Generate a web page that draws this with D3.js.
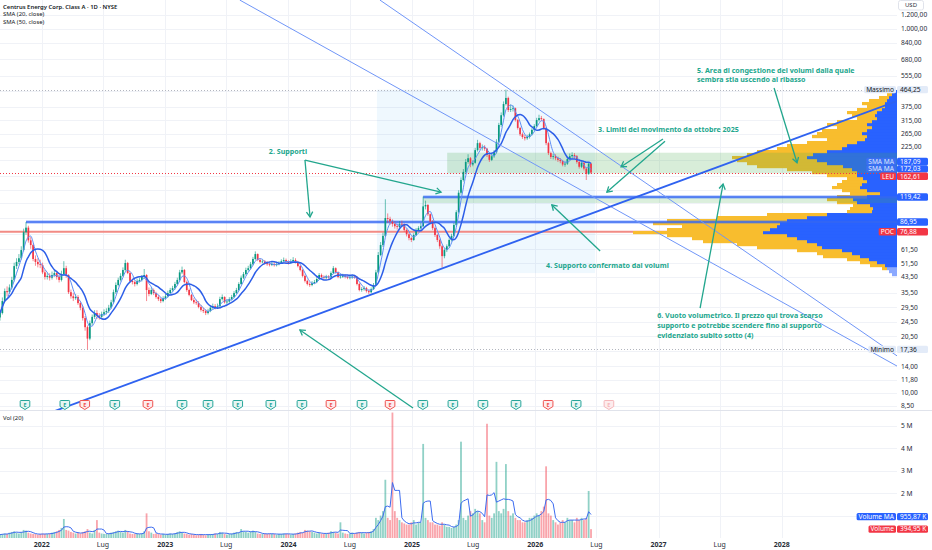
<!DOCTYPE html>
<html>
<head>
<meta charset="utf-8">
<script src="https://cdn.jsdelivr.net/npm/d3@7"></script>
<style>
  body { margin: 0; background: #fff; }
  svg { display: block; font-family: "Noto Sans", "DejaVu Sans", sans-serif; }
</style>
</head>
<body>
<svg id="chart" width="932" height="550"></svg>
<script>
/* global d3 */

// ---- data (weekly candles) ----
var firstWeek = "2021-08-30";
var firstOpen = 26;

var closes = [
  27.5,32,36.3,35.8,38,41.8,49.8,52.5,55,61,
  76.5,81,69,65,54.5,52.5,51,50.5,46,43.4,
  44,43,44.5,45.6,43.4,41.8,45,48.5,44.5,35.8,
  34,33.2,33.7,31.2,29.4,25.8,23,19.9,24.2,26.2,
  27.5,26.5,26.2,27.2,27.8,28.2,29.4,31.5,35.8,39.2,
  41.8,44,47.4,51.8,45.6,41.3,40.7,39.7,41.3,41.8,
  43.4,44.5,36.8,35,36.8,35.4,33.7,32.8,32,33.2,
  34,35.4,36.8,37.7,39.7,41.8,46,47.4,40.7,36.8,
  34.6,32.4,31.5,31.2,29.7,28.6,28.2,27.5,28.2,29.4,
  30,29.4,30,32.8,33.7,31.5,31.8,32.8,33.7,35.4,
  36.8,39.7,43,45,47.4,48.5,51,54.5,58,53.8,
  52.5,52.8,51.8,51,50.5,51.2,50.4,51,51.8,53,
  53.8,52.5,51.8,53,53.8,52.5,49.8,47.4,44,41.3,
  39.7,39.2,40.2,40.7,42.3,44.5,43.4,43,43.6,43.2,
  45.6,48.5,46,43.4,43.6,44,43.4,43,43.2,43.6,
  43.3,39.7,36.8,37.2,37.7,36.3,35.8,37.2,39.2,46,
  57.3,65,73,91.5,90.5,87.5,85,82.5,81.7,85,
  84.6,78.7,74.5,71,69.3,73.8,78.7,80.5,82.5,106,
  108,96,87.5,80.5,73.8,69.3,64,56.5,61,64,
  69.3,73,83.8,98.5,126,148,164,186,195,180,
  184,216,236,222,224,220,203,191,200,210,
  240,297,336,387,418,359,363,367,316,286,
  264,255,251,255,264,279,293,316,324,320,
  286,236,208,198,200,195,191,188,180,182,
  193,200,203,200,186,175,184,171,160,182,
  162.61
];

var highs = [
  28.5,33.5,37.5,38.5,39.5,43.5,52,55,58,64,
  80,87,83,72,66,57,55,54,52,47.5,
  46,45.5,46.5,47.5,47,44.5,47,53,50,45,
  37,35.5,35,34.5,32,30,26.5,23.5,25,27,
  28.5,28.5,27.5,28,28.8,29.2,30.5,32.5,37,40.5,
  43,45.5,49,54,52.5,46.5,42.5,41.5,42.5,43,
  44.5,48,45,38,38,37.5,36,34.5,33.5,34,
  35,36.5,37.8,38.8,40.8,43,47.5,49.5,48,41.5,
  37.5,35,33.2,32.5,32,30.5,29.5,28.8,29,30.2,
  31,30.8,31,33.8,34.8,34,32.8,33.6,34.6,36.3,
  37.8,40.6,44.2,46.2,48.8,50,52.5,56,60,58.5,
  55,54.2,53.8,53,52.3,52.5,52.3,52.2,53,54.3,
  55.5,54.8,53.6,54.4,55.8,55,53.2,50.5,48,44.8,
  42,40.6,41.2,41.8,43.4,45.6,45.3,44.3,44.6,44.4,
  46.6,49.8,49,46.6,44.8,45.2,44.8,44.2,44.3,44.6,
  44.5,43.8,40.3,38.2,38.7,38.3,37,38,40.2,47.5,
  59.5,67.5,76,116,97,93,90,88,85,88,
  88.5,85.5,80,76,72.5,75.5,80.5,82.5,86,120,
  114,109,97,89,82,75,70.5,65,62.5,65.5,
  70.8,75,86,101,130,153,170,193,205,198,
  190,222,246,240,232,230,222,206,205,216,
  248,305,348,400,464.25,425,385,380,370,320,
  290,270,262,262,270,285,300,325,338,333,
  323,290,240,212,206,205,199,195,191,187,
  198,207,210,208,203,189,188,187,174,186,
  184
];

var lows = [
  25,27,31.5,34,35,37,41,48,51,54,
  60,74,67,62,53,50,49,48.5,45,42,
  42,41.5,42,43.5,42,40.5,41,44.5,43,35,
  33,32,32.5,30.5,28.5,25,22,17.36,19.5,23.5,
  25.5,25.5,25.3,25.5,26.5,27,27.5,29,31,35,
  38.5,41,43.5,46.5,45,40.5,39.5,38.5,39,40.5,
  41,42.5,32,34,34.5,34.5,33,32,31.2,31.5,
  32.5,33.5,35,36,37,39,41,45,40,36,
  34,32,30.8,30.5,29.2,28,27.5,26.8,27,27.8,
  29,28.8,29,29.6,32.2,31,30.8,31.3,32.3,33.2,
  35,36.3,39.2,42.3,44.3,46.5,47.8,50.3,53.8,53,
  51.5,51.6,50.8,50,49.6,49.8,49.5,49.6,50.3,51.2,
  52.3,51.6,50.8,51.2,52.3,51.5,49,46.6,43.2,40.5,
  39,38.3,38.6,39.6,40.1,41.8,42.6,42.2,42.3,42.4,
  42.7,45,45.3,42.7,42.5,42.9,42.6,42.2,42.1,42.4,
  42.4,39,36.2,36,36.5,35.6,35,35.3,36.8,38.8,
  45.5,56.5,63.5,72,86,84,82,80,79,80.5,
  82,77,72.5,69,67.5,68.5,73,77.5,79.5,81.5,
  102,94,85.5,78.5,72,67.5,62,49,55,59.5,
  63,68,72,82.5,97,123,145,160,182,174,
  176,182,212,216,215,214,198,186,188,196,
  207,236,290,330,380,350,350,352,310,280,
  258,249,244,246,250,260,274,288,310,312,
  280,230,203,193,192,190,186,183,176,175,
  179,190,196,194,182,171,172,167,148,158,
  160
];

// volume, millions of shares
var volumes = [
  0.15,0.18,0.2,0.18,0.24,0.27,0.3,0.24,0.2,0.27,
  0.36,0.33,0.24,0.2,0.18,0.18,0.15,0.18,0.2,0.18,
  0.18,0.2,0.24,0.27,0.3,0.36,0.45,0.85,0.36,0.33,
  0.27,0.24,0.2,0.24,0.2,0.27,0.3,0.4,0.24,0.2,
  0.36,0.8,0.24,0.2,0.18,0.18,0.2,0.24,0.27,0.3,
  0.33,0.27,0.24,0.36,0.3,0.2,0.18,0.18,0.2,0.18,
  0.2,0.3,1.1,0.3,0.24,0.18,0.2,0.18,0.15,0.18,
  0.15,0.18,0.2,0.18,0.2,0.27,0.3,0.24,0.2,0.18,
  0.15,0.18,0.15,0.12,0.15,0.18,0.15,0.12,0.15,0.18,
  0.18,0.2,0.18,0.27,0.24,0.18,0.15,0.18,0.2,0.24,
  0.27,0.24,0.4,0.3,0.27,0.24,0.3,0.33,0.27,0.2,
  0.18,0.18,0.2,0.18,0.2,0.18,0.18,0.15,0.18,0.18,
  0.2,0.18,0.18,0.15,0.18,0.2,0.24,0.27,0.24,0.36,
  0.33,0.3,0.27,0.24,0.2,0.24,0.2,0.18,0.2,0.24,
  0.3,0.27,0.24,0.2,0.7,0.24,0.2,0.18,0.2,0.24,
  0.2,0.24,0.27,0.24,0.2,0.24,0.27,0.3,0.4,0.9,
  0.8,1.0,1.2,2.6,0.9,0.8,5.6,1.2,0.9,0.8,
  0.7,0.65,0.6,0.6,0.7,0.8,0.6,0.7,0.7,4.2,
  0.9,0.8,0.7,0.7,0.6,0.6,0.55,0.7,0.6,0.5,
  0.5,0.45,0.5,0.6,0.8,4.3,0.9,0.8,1.0,1.2,
  1.1,1.3,1.2,1.1,0.8,0.7,5.1,1.0,0.9,1.1,
  3.4,1.2,1.1,1.3,3.3,1.2,1.0,1.1,0.9,0.8,
  0.8,0.7,0.7,0.8,0.9,0.9,1.0,1.1,1.0,1.2,
  1.4,3.2,1.1,1.0,0.8,0.7,0.6,0.7,0.8,0.7,
  0.9,0.8,0.8,0.7,0.9,0.8,0.9,0.8,0.9,2.1,
  0.39495
];

// last values shown on the scale
var smaLast = [187.09, 172.03];
var volMaLast = 0.95587;

// levels and drawings
var pocPrice = 76.88;
var oldHigh = [86.95, "2021-11-15"];
var newHigh = [119.42, "2025-02-03"];
var newHighBandLow = 110.7;
var congestionZone = ["2025-04-15", 161.1, 209];
var rangeBox = ["2024-09-19", "2026-06-27", 45.6, 464.25];
var trendThin = [
  [["2023-08-10", 1442], ["2028-12-07", 14.06]],
  [["2024-09-28", 1442], ["2028-12-07", 16.0]]
];
var trendThick = [["2022-02-08", 7.96], ["2028-12-07", 402]];

// visible range volume profile (bottom row first), thousands of shares
var vpLow = 43.94, vpHigh = 462.3;
var vpUp = [5,8,10,12,20,28,37,45,55,75, 80,90,100,110,134,127,120,117,110,90,
  70,25,24,27,40,44,30,17,30,37, 35,30,34,40,40,45,54,70,80,90,
  84,70,55,50,40,32,30,35,30,25, 30,25,20,22,20,15,12,12,10,8, 5,3];
var vpDown = [0,0,5,15,17,22,37,35,45,65, 80,104,105,120,130,103,95,127,120,90,
  60,25,23,17,20,26,30,30,25,28, 25,25,16,30,45,65,86,80,80,75,
  66,70,65,60,50,38,55,45,45,35, 40,35,20,23,30,25,18,23,18,10, 5,2];

// earnings
var earnDates = ["2021-11-12","2022-03-10","2022-05-08","2022-08-05","2022-11-11",
  "2023-02-20","2023-05-08","2023-08-04","2023-11-10","2024-02-10","2024-05-06",
  "2024-08-06","2024-10-28","2025-02-02","2025-05-02","2025-07-30","2025-11-05",
  "2026-02-08","2026-05-02","2026-08-07"];
var earnKind = ["up","up","down","up","down","up","up","up","up","up","down",
  "up","down","up","up","up","up","down","up","next"];

// axes
var priceTicks = [8.5,10,11.8,14,17,20.5,24.5,29.5,35.5,43.5,51.5,61.5,75,91,110,130,
  155,190,225,265,315,375,455,555,680,840,1000,1200];
var volTicks = [1,2,3,4,5];
var timeTicks = ["2022-01-01","2022-07-01","2023-01-01","2023-07-01","2024-01-01",
  "2024-07-01","2025-01-01","2025-07-01","2026-01-01","2026-07-01","2027-01-01",
  "2027-07-01","2028-01-01"];
var timeLabels = ["2022","Lug","2023","Lug","2024","Lug","2025","Lug","2026","Lug",
  "2027","Lug","2028"];

// annotations
var noteTexts = [
  ["2. Supporti"],
  ["3. Limiti del movimento da ottobre 2025"],
  ["4. Supporto confermato dai volumi"],
  ["5. Area di congestione dei volumi dalla quale", "sembra stia uscendo al ribasso"],
  ["6. Vuoto volumetrico. Il prezzo qui trova scarso", "supporto e potrebbe scendere fino al supporto", "evidenziato subito sotto (4)"]
];
var noteAnchors = [["2023-11-04", 211], ["2026-07-06", 282], ["2026-02-02", 49.9],
  ["2027-04-25", 595], ["2026-12-28", 26.5]];
var noteArrows = [
  [["2024-02-19", 190.6], ["2024-03-05", 92.7]],
  [["2024-02-19", 190.6], ["2025-03-28", 127]],
  [["2027-01-14", 248.7], ["2026-09-12", 175]],
  [["2027-01-20", 242], ["2026-08-01", 127]],
  [["2026-07-12", 60.3], ["2026-02-19", 108]],
  [["2027-12-09", 474], ["2028-02-15", 184]],
  [["2027-05-04", 29.3], ["2027-07-11", 140.6]],
  [["2025-01-04", 8.27], ["2024-02-04", 22.2]]
];

// ---- layout ----
var plotR = 897, paneBottom = 410, volBottom = 538;
var upColor = "#089981", downColor = "#f23645", noteColor = "#22a68d";

var parse = d3.timeParse("%Y-%m-%d");
var itFormat = d3.formatLocale({decimal: ",", thousands: ".", grouping: [3], currency: ["", ""]}).format(",.2f");

var svg = d3.select("#chart");
var x = d3.scaleTime().domain([parse("2021-08-30"), parse("2028-12-07")]).range([0, plotR]);
var y = d3.scaleLog().domain([10, 1000]).range([393, 29]);
var yv = d3.scaleLinear().domain([0, 5]).range([volBottom, 426]);

var start = parse(firstWeek);
var candles = closes.map(function(c, i) {
  return {
    date: d3.timeDay.offset(start, 7 * i),
    open: i ? closes[i - 1] : firstOpen,
    high: highs[i], low: lows[i], close: c, vol: volumes[i]
  };
});

function sma(values, n) {
  return values.map(function(v, i) {
    return d3.mean(values.slice(Math.max(0, i - n + 1), i + 1));
  });
}
var sma20 = sma(closes, 4), sma50 = sma(closes, 10), volMa = sma(volumes, 4);

function px(p) { return x(parse(p[0])); }
function py(p) { return y(p[1]); }

svg.append("rect").attr("width", 932).attr("height", 550).attr("fill", "#fff");

// grid
var grid = svg.append("g").attr("stroke", "#f0f2f7").attr("stroke-width", 1);
timeTicks.forEach(function(t) {
  var xx = Math.round(x(parse(t))) + 0.5;
  grid.append("line").attr("x1", xx).attr("x2", xx).attr("y1", 0).attr("y2", volBottom);
});
priceTicks.forEach(function(t) {
  var yy = Math.round(y(t)) + 0.5;
  grid.append("line").attr("x1", 0).attr("x2", plotR).attr("y1", yy).attr("y2", yy);
});
volTicks.forEach(function(t) {
  var yy = Math.round(yv(t)) + 0.5;
  grid.append("line").attr("x1", 0).attr("x2", plotR).attr("y1", yy).attr("y2", yy);
});
svg.append("line").attr("x1", 0).attr("x2", 932).attr("y1", paneBottom + 0.5).attr("y2", paneBottom + 0.5)
  .attr("stroke", "#e0e3eb");

svg.append("clipPath").attr("id", "pane").append("rect")
  .attr("x", 0).attr("y", 0).attr("width", plotR).attr("height", paneBottom);
var pane = svg.append("g").attr("clip-path", "url(#pane)");

// range box
pane.append("rect")
  .attr("x", px([rangeBox[0]])).attr("width", px([rangeBox[1]]) - px([rangeBox[0]]))
  .attr("y", y(rangeBox[3])).attr("height", y(rangeBox[2]) - y(rangeBox[3]))
  .attr("fill", "rgba(33,150,243,0.07)");

// POC line (under the profile)
pane.append("line").attr("x1", 0).attr("x2", plotR).attr("y1", y(pocPrice)).attr("y2", y(pocPrice))
  .attr("stroke", "#f28b85").attr("stroke-width", 2);

// volume profile
var vpRows = vpUp.length;
var vpStep = Math.log(vpHigh / vpLow) / vpRows;
var vpW = d3.scaleLinear().domain([0, d3.max(vpUp, function(v, i) { return v + vpDown[i]; })]).range([0, 264]);
var vp = pane.append("g");
vpUp.forEach(function(up, k) {
  var lo = vpLow * Math.exp(vpStep * k), hi = vpLow * Math.exp(vpStep * (k + 1));
  var y0 = y(hi), h = y(lo) - y(hi);
  var wt = vpW(up + vpDown[k]), wu = vpW(up);
  vp.append("rect").attr("x", plotR - wt).attr("width", wt - wu).attr("y", y0).attr("height", h + 0.2)
    .attr("fill", "#f8bd2e");
  vp.append("rect").attr("x", plotR - wu).attr("width", wu).attr("y", y0).attr("height", h + 0.2)
    .attr("fill", k < 3 ? "#8aa8ff" : "#2962ff");
});

// zones
pane.append("rect")
  .attr("x", px([congestionZone[0]])).attr("width", plotR - px([congestionZone[0]]))
  .attr("y", y(congestionZone[2])).attr("height", y(congestionZone[1]) - y(congestionZone[2]))
  .attr("fill", "rgba(76,175,80,0.22)");
pane.append("rect")
  .attr("x", px([newHigh[1]])).attr("width", plotR - px([newHigh[1]]))
  .attr("y", y(newHigh[0])).attr("height", y(newHighBandLow) - y(newHigh[0]))
  .attr("fill", "rgba(76,175,80,0.2)");

// horizontal supports
[oldHigh, newHigh].forEach(function(lv) {
  var x0 = px([lv[1]]), yy = y(lv[0]);
  pane.append("line").attr("x1", x0).attr("x2", plotR).attr("y1", yy).attr("y2", yy)
    .attr("stroke", "rgba(41,98,255,0.25)").attr("stroke-width", 4);
  pane.append("line").attr("x1", x0).attr("x2", plotR).attr("y1", yy).attr("y2", yy)
    .attr("stroke", "#3567f2").attr("stroke-width", 1.5);
});

// high / low / last price dotted lines
var maxHigh = d3.max(highs), minLow = d3.min(lows), lastClose = closes[closes.length - 1];
[[maxHigh, "#b2b5be"], [minLow, "#b2b5be"], [lastClose, "#f23645"]].forEach(function(d) {
  var yy = Math.round(y(d[0])) + 0.5;
  pane.append("line").attr("x1", 0).attr("x2", plotR).attr("y1", yy).attr("y2", yy)
    .attr("stroke", d[1]).attr("stroke-width", 1).attr("stroke-dasharray", "1,2");
});

// candles
var cw = 1.7;
var cg = pane.append("g");
candles.forEach(function(d) {
  var cx = x(d.date), col = d.close >= d.open ? upColor : downColor;
  cg.append("line").attr("x1", cx).attr("x2", cx).attr("y1", y(d.high)).attr("y2", y(d.low))
    .attr("stroke", col).attr("stroke-width", 0.6);
  var top = y(Math.max(d.open, d.close)), bot = y(Math.min(d.open, d.close));
  cg.append("rect").attr("x", cx - cw / 2).attr("width", cw).attr("y", top)
    .attr("height", Math.max(0.8, bot - top)).attr("fill", col);
});

// moving averages
var maLine = d3.line().x(function(d, i) { return x(candles[i].date); }).y(function(d) { return y(d); })
  .curve(d3.curveMonotoneX);
pane.append("path").datum(sma20).attr("d", maLine).attr("fill", "none")
  .attr("stroke", "#5e8ef5").attr("stroke-width", 1);
pane.append("path").datum(sma50).attr("d", maLine).attr("fill", "none")
  .attr("stroke", "#2c5ee8").attr("stroke-width", 1.5);

// trend lines
trendThin.forEach(function(t) {
  pane.append("line").attr("x1", px(t[0])).attr("y1", py(t[0])).attr("x2", px(t[1])).attr("y2", py(t[1]))
    .attr("stroke", "#7096f8").attr("stroke-width", 1);
});
pane.append("line").attr("x1", px(trendThick[0])).attr("y1", py(trendThick[0]))
  .attr("x2", px(trendThick[1])).attr("y2", py(trendThick[1]))
  .attr("stroke", "#2f62f0").attr("stroke-width", 1.8);

// annotations
var notes = svg.append("g");
noteArrows.forEach(function(a) {
  var x0 = px(a[0]), y0 = py(a[0]), x1 = px(a[1]), y1 = py(a[1]);
  var ang = Math.atan2(y1 - y0, x1 - x0), L = 6, s = 0.55;
  notes.append("line").attr("x1", x0).attr("y1", y0).attr("x2", x1).attr("y2", y1)
    .attr("stroke", noteColor).attr("stroke-width", 1.3);
  notes.append("path")
    .attr("d", "M" + (x1 - L * Math.cos(ang - s)) + "," + (y1 - L * Math.sin(ang - s)) +
      "L" + x1 + "," + y1 +
      "L" + (x1 - L * Math.cos(ang + s)) + "," + (y1 - L * Math.sin(ang + s)))
    .attr("fill", "none").attr("stroke", noteColor).attr("stroke-width", 1.3);
});
noteTexts.forEach(function(lines, i) {
  lines.forEach(function(s, j) {
    notes.append("text").attr("x", px(noteAnchors[i])).attr("y", py(noteAnchors[i]) + 2.5 + j * 9.6)
      .attr("fill", noteColor).attr("font-size", 7.1).attr("font-weight", 700).text(s);
  });
});

// earnings badges
earnDates.forEach(function(dt, i) {
  var cx = x(parse(dt)), cy = 405;
  var col = earnKind[i] === "up" ? "#26a69a" : earnKind[i] === "down" ? "#ef5350" : "#f5b8bb";
  var fill = earnKind[i] === "up" ? "#e6f5f3" : "#fdeced";
  var g = svg.append("g").attr("transform", "translate(" + cx + "," + cy + ")");
  g.append("path").attr("d", "M-4,-4.5h8q0.8,0 0.8,0.8v5.2l-4.8,3l-4.8,-3v-5.2q0,-0.8 0.8,-0.8z")
    .attr("fill", fill).attr("stroke", col).attr("stroke-width", 1);
  g.append("text").attr("y", 0.2).attr("text-anchor", "middle").attr("dominant-baseline", "middle")
    .attr("font-size", 5.5).attr("font-weight", 700).attr("fill", col).text("E");
});

// volume pane
var vg = svg.append("g");
candles.forEach(function(d) {
  var cx = x(d.date);
  vg.append("rect").attr("x", cx - 0.9).attr("width", 1.8).attr("y", yv(d.vol))
    .attr("height", yv(0) - yv(d.vol))
    .attr("fill", d.close >= d.open ? "rgba(8,153,129,0.45)" : "rgba(242,54,69,0.45)");
});
vg.append("path").datum(volMa)
  .attr("d", d3.line().x(function(d, i) { return x(candles[i].date); }).y(function(d) { return yv(d); }))
  .attr("fill", "none").attr("stroke", "#3d6cf0").attr("stroke-width", 1);

// scale tags (value box on the axis, optional name box to its left)
var lastVol = volumes[volumes.length - 1];
var priceTags = [
  [y(maxHigh), itFormat(maxHigh), "#e3ebf8", "#131722", "Massimo"],
  [y(smaLast[0]), itFormat(smaLast[0]), "#2962ff", "#fff", "SMA MA", "#3b6ff2", "#dfe8ff"],
  [y(smaLast[1]), itFormat(smaLast[1]), "#2962ff", "#fff", "SMA MA", "#3b6ff2", "#dfe8ff"],
  [y(lastClose), itFormat(lastClose), "#f23645", "#fff", "LEU"],
  [y(newHigh[0]), itFormat(newHigh[0]), "#2962ff", "#fff"],
  [y(oldHigh[0]), itFormat(oldHigh[0]), "#2962ff", "#fff"],
  [y(pocPrice), itFormat(pocPrice), "#f23645", "#fff", "POC"],
  [y(minLow), itFormat(minLow), "#e3ebf8", "#131722", "Minimo"]
];
var volTags = [
  [yv(volMaLast), itFormat(volMaLast * 1000) + " K", "#2962ff", "#fff", "Volume MA"],
  [yv(lastVol), itFormat(lastVol * 1000) + " K", "#f23645", "#fff", "Volume"]
];
var tagH = 7.4;
function spread(tags) {
  tags.sort(function(a, b) { return a[0] - b[0]; });
  for (var i = 1; i < tags.length; i++) {
    if (tags[i][0] - tags[i - 1][0] < tagH) tags[i][0] = tags[i - 1][0] + tagH;
  }
}
spread(priceTags);
spread(volTags);
var allTags = priceTags.concat(volTags);

function freeOfTags(yy) {
  return yy > 13 && allTags.every(function(t) { return Math.abs(t[0] - yy) > tagH - 0.5; });
}

// price and volume scales
var axis = svg.append("g").attr("font-size", 6.6).attr("fill", "#2a2e39");
priceTicks.forEach(function(t) {
  if (!freeOfTags(y(t))) return;
  axis.append("text").attr("x", 901).attr("y", y(t)).attr("dy", "0.35em").text(itFormat(t));
});
volTicks.forEach(function(t) {
  if (!freeOfTags(yv(t))) return;
  axis.append("text").attr("x", 901).attr("y", yv(t)).attr("dy", "0.35em").text(t + " M");
});
timeTicks.forEach(function(t, i) {
  axis.append("text").attr("x", x(parse(t))).attr("y", 545).attr("dy", "0.35em")
    .attr("font-size", 7).attr("text-anchor", "middle")
    .attr("font-weight", /\d/.test(timeLabels[i]) ? 700 : 400)
    .text(timeLabels[i]);
});

allTags.forEach(function(d) {
  var yy = d[0];
  var g = svg.append("g").attr("font-size", 6.6);
  g.append("rect").attr("x", 897).attr("y", yy - tagH / 2).attr("width", 31).attr("height", tagH)
    .attr("rx", 1.5).attr("fill", d[2]);
  g.append("text").attr("x", 900).attr("y", yy).attr("dy", "0.35em").attr("fill", d[3]).text(d[1]);
  if (d[4]) {
    var r = g.append("rect").attr("y", yy - tagH / 2).attr("height", tagH).attr("rx", 1.5)
      .attr("fill", d[5] || d[2]);
    var t = g.append("text").attr("x", 894).attr("y", yy).attr("dy", "0.35em").attr("text-anchor", "end")
      .attr("fill", d[6] || d[3]).text(d[4]);
    var w = t.node().getComputedTextLength();
    r.attr("x", 896 - w - 4).attr("width", w + 4);
  }
});

// currency badge
svg.append("rect").attr("x", 898.5).attr("y", 0.5).attr("width", 25).attr("height", 9.5).attr("rx", 2)
  .attr("fill", "#fff").attr("stroke", "#e0e3eb");
svg.append("text").attr("x", 911).attr("y", 5.3).attr("dy", "0.35em").attr("text-anchor", "middle")
  .attr("font-size", 6).attr("fill", "#2a2e39").text("USD");

// legend
var legend = svg.append("g").attr("font-size", 5.9).attr("fill", "#131722");
legend.append("text").attr("x", 3).attr("y", 8.6).attr("font-weight", 600)
  .text("Centrus Energy Corp. Class A · 1D · NYSE");
legend.append("text").attr("x", 3).attr("y", 16.2).text("SMA (20, close)");
legend.append("text").attr("x", 3).attr("y", 23.8).text("SMA (50, close)");
svg.append("text").attr("x", 3).attr("y", 420).attr("font-size", 5.9).attr("fill", "#131722").text("Vol (20)");
</script>
</body>
</html>
